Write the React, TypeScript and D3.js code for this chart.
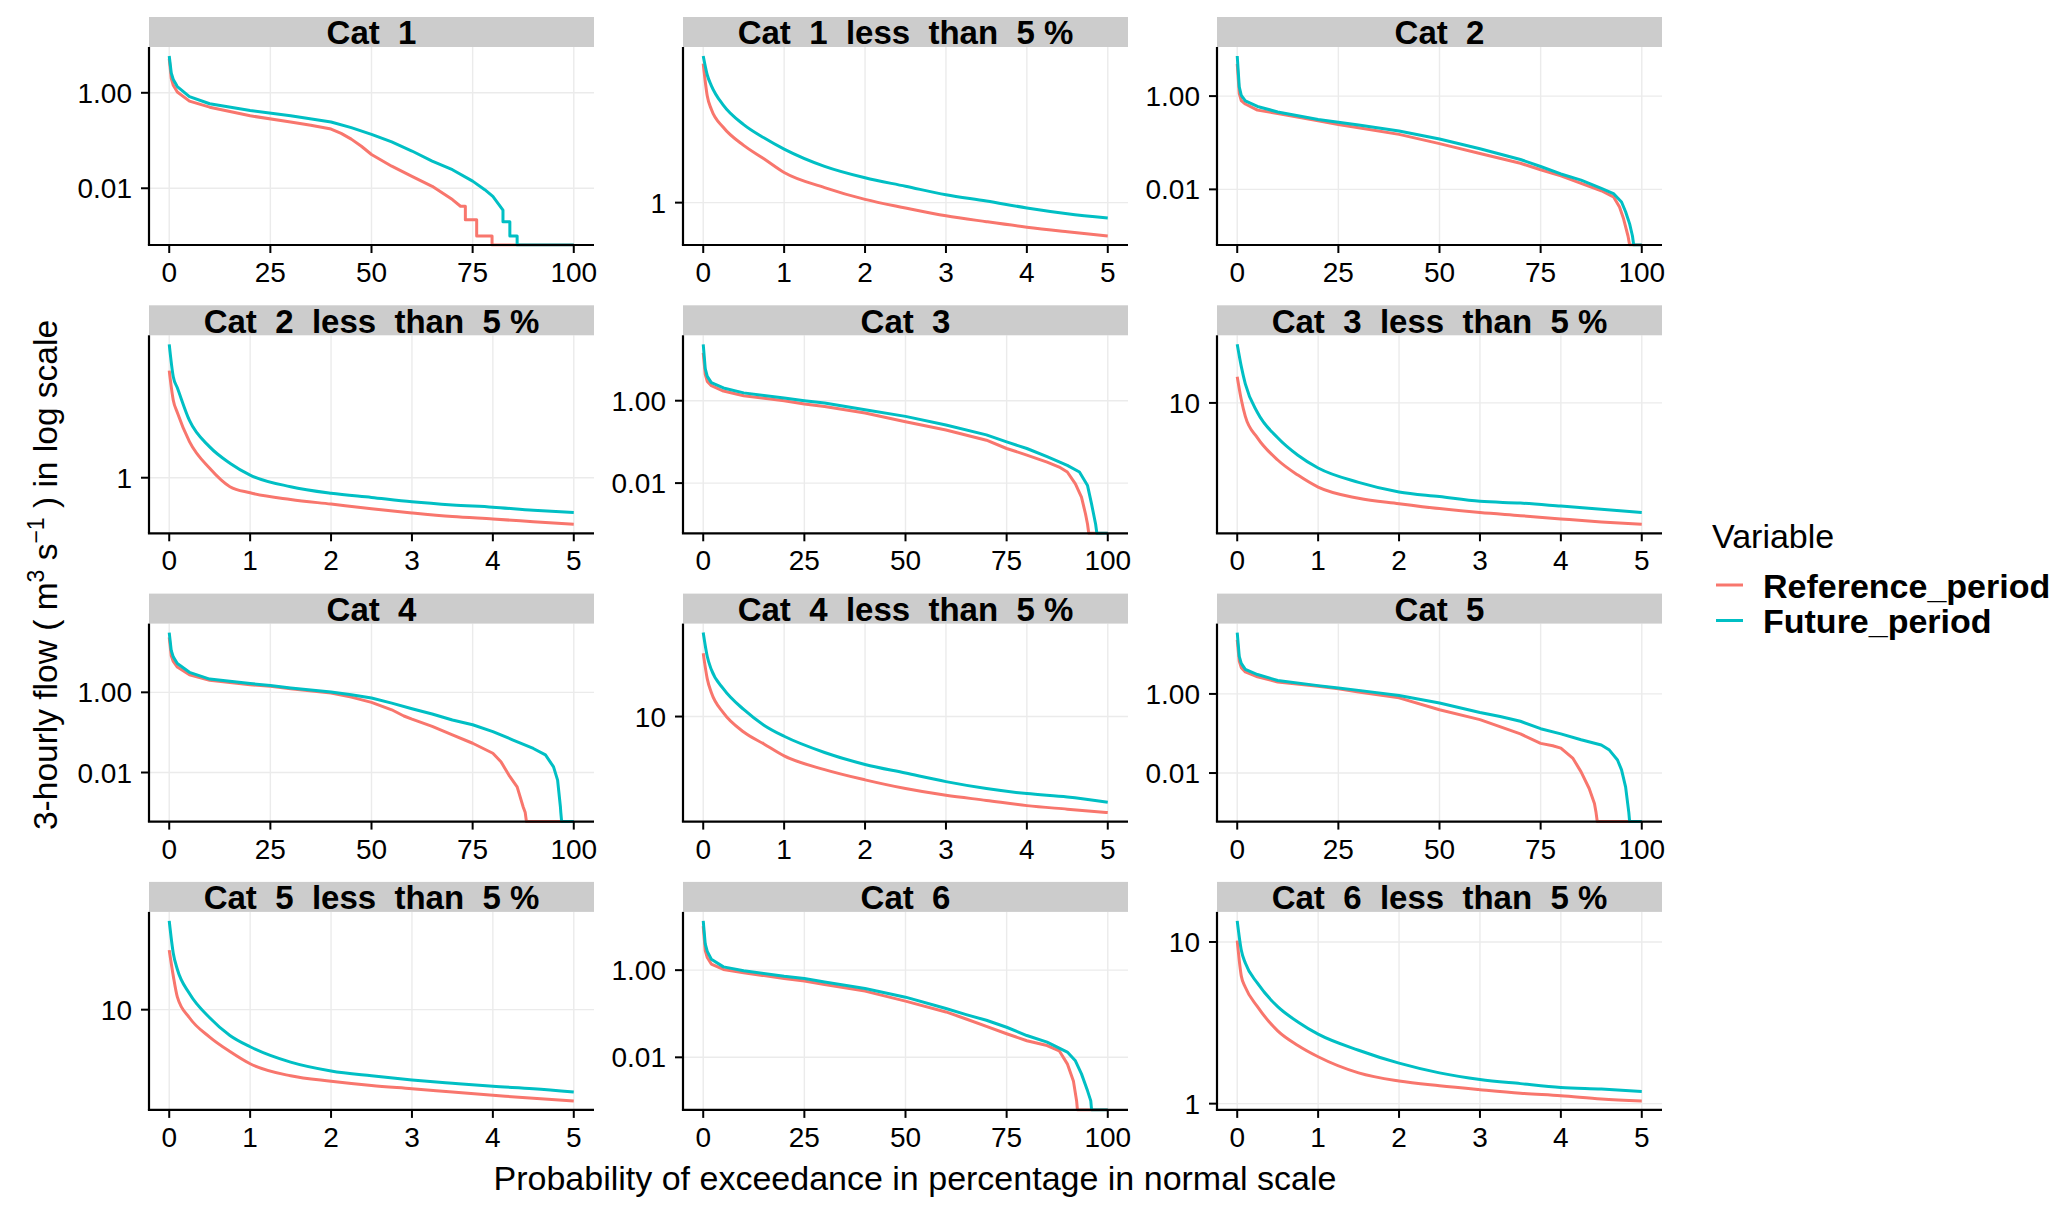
import React from "react";
import * as d3 from "d3";

type Pt = [number, number];

// percent-of-exceedance grid shared by the "less than 5%" panels
const pctLow = [0, 0.05, 0.1, 0.25, 0.5, 0.75, 1, 1.5, 2, 2.5, 3, 3.5, 4, 4.5, 5];

// full-range panels: [probability %, flow m3/s], 0 = zero flow (drawn at panel floor)
const cat1Ref: Pt[] = [[0, 5.2], [0.5, 2.0], [1, 1.44], [2, 1.04], [5, 0.67], [10, 0.5], [20, 0.33], [30, 0.245], [35, 0.209], [40, 0.174], [42.5, 0.141], [45, 0.107], [47.5, 0.0759], [50, 0.051], [55, 0.029], [60, 0.0178], [65, 0.011], [70, 0.0058], [72, 0.0042], [73.2, 0.0042], [73.2, 0.0022], [76, 0.0022], [76, 0.001], [79.8, 0.001], [79.8, 0], [100, 0]];
const cat1Fut: Pt[] = [[0, 5.9], [0.5, 2.6], [1, 1.9], [2, 1.35], [5, 0.83], [10, 0.589], [20, 0.427], [30, 0.331], [40, 0.245], [45, 0.186], [50, 0.135], [55, 0.0933], [60, 0.0603], [65, 0.0372], [70, 0.0245], [75, 0.0141], [78, 0.00933], [80, 0.00676], [82.5, 0.0035], [82.5, 0.002], [84.2, 0.002], [84.2, 0.001], [86, 0.001], [86, 0], [100, 0]];
const cat2Ref: Pt[] = [[0, 4.9], [0.5, 1.15], [1, 0.8], [2, 0.676], [5, 0.5], [10, 0.422], [20, 0.295], [25, 0.245], [30, 0.209], [40, 0.151], [50, 0.0955], [60, 0.0589], [70, 0.0363], [75, 0.0263], [80, 0.0195], [85, 0.0135], [90, 0.00933], [93, 0.00692], [94.5, 0.00417], [95.5, 0.00234], [96.6, 0.001], [97, 0], [100, 0]];
const cat2Fut: Pt[] = [[0, 7.24], [0.5, 1.58], [1, 1.04], [2, 0.79], [5, 0.6], [10, 0.457], [20, 0.316], [25, 0.275], [30, 0.24], [40, 0.178], [50, 0.12], [60, 0.0741], [70, 0.0437], [75, 0.0309], [80, 0.0214], [85, 0.0158], [90, 0.0105], [93, 0.00813], [95, 0.00537], [96, 0.00331], [97, 0.00182], [97.7, 0.001], [98, 0], [100, 0]];
const cat3Ref: Pt[] = [[0, 14.6], [0.5, 4.37], [1, 2.95], [2, 2.32], [5, 1.72], [10, 1.32], [20, 1.0], [25, 0.832], [30, 0.724], [40, 0.501], [50, 0.309], [60, 0.195], [70, 0.11], [75, 0.0692], [80, 0.0479], [85, 0.0324], [88, 0.0245], [90, 0.0186], [92, 0.00955], [93.5, 0.00457], [94.5, 0.00178], [95, 0.001], [95.3, 0], [100, 0]];
const cat3Fut: Pt[] = [[0, 23.4], [0.5, 6.03], [1, 3.89], [2, 2.75], [5, 2.04], [10, 1.55], [20, 1.16], [25, 1.0], [30, 0.877], [40, 0.603], [50, 0.417], [60, 0.257], [70, 0.148], [75, 0.1], [80, 0.0692], [85, 0.0437], [90, 0.0269], [93, 0.0186], [95, 0.0087], [96, 0.00309], [97, 0.001], [97.3, 0], [100, 0]];
const cat4Ref: Pt[] = [[0, 23.4], [0.5, 8.13], [1, 5.89], [2, 4.27], [5, 2.75], [10, 2.0], [20, 1.55], [25, 1.41], [30, 1.23], [40, 0.962], [45, 0.759], [50, 0.562], [55, 0.367], [58, 0.257], [60, 0.214], [65, 0.141], [70, 0.0871], [75, 0.0537], [80, 0.0302], [82, 0.0186], [84, 0.00851], [86, 0.00437], [87.5, 0.00138], [88, 0.001], [88.3, 0], [100, 0]];
const cat4Fut: Pt[] = [[0, 30.9], [0.5, 11.0], [1, 7.67], [2, 5.25], [5, 3.16], [10, 2.14], [20, 1.66], [25, 1.48], [30, 1.29], [40, 1.02], [45, 0.871], [50, 0.724], [55, 0.537], [60, 0.389], [65, 0.288], [70, 0.204], [75, 0.155], [80, 0.105], [85, 0.0646], [90, 0.0398], [93, 0.0275], [95, 0.0138], [96, 0.00646], [96.7, 0.00138], [96.8, 0.001], [97, 0], [100, 0]];
const cat5Ref: Pt[] = [[0, 23.4], [0.5, 6.76], [1, 4.62], [2, 3.6], [5, 2.72], [10, 2.0], [20, 1.57], [25, 1.35], [30, 1.12], [40, 0.794], [50, 0.398], [60, 0.224], [70, 0.0977], [75, 0.0562], [78, 0.049], [80, 0.0427], [83, 0.0234], [85, 0.0107], [87, 0.00407], [88.3, 0.0017], [88.7, 0.001], [89, 0], [100, 0]];
const cat5Fut: Pt[] = [[0, 35.5], [0.5, 8.91], [1, 5.89], [2, 4.17], [5, 3.09], [10, 2.19], [20, 1.62], [25, 1.41], [30, 1.23], [40, 0.912], [50, 0.589], [60, 0.339], [65, 0.269], [70, 0.204], [75, 0.132], [80, 0.0977], [85, 0.0692], [90, 0.0513], [92, 0.038], [94, 0.0214], [95, 0.012], [96, 0.00447], [96.8, 0.001], [97, 0], [100, 0]];
const cat6Ref: Pt[] = [[0, 10.2], [0.5, 2.82], [1, 1.95], [2, 1.38], [5, 1.04], [10, 0.871], [20, 0.646], [25, 0.562], [30, 0.468], [40, 0.331], [50, 0.195], [60, 0.11], [65, 0.0759], [70, 0.0513], [75, 0.0347], [80, 0.024], [85, 0.0186], [88, 0.0141], [90, 0.00708], [91.5, 0.00288], [92.3, 0.001], [92.5, 0], [100, 0]];
const cat6Fut: Pt[] = [[0, 13.5], [0.5, 3.98], [1, 2.69], [2, 1.78], [5, 1.19], [10, 0.966], [20, 0.724], [25, 0.646], [30, 0.537], [40, 0.38], [50, 0.24], [60, 0.132], [65, 0.0955], [70, 0.0708], [75, 0.049], [80, 0.0316], [85, 0.0224], [90, 0.0132], [92, 0.00832], [93.5, 0.00417], [95, 0.0017], [95.8, 0.001], [96, 0], [100, 0]];

// "less than 5%" panels, values at pctLow
const cat1LowRef = [5.37, 3.63, 3.09, 2.48, 2.0, 1.7, 1.44, 1.2, 1.04, 0.938, 0.853, 0.794, 0.743, 0.703, 0.668];
const cat1LowFut = [5.89, 4.68, 4.12, 3.24, 2.57, 2.19, 1.91, 1.55, 1.35, 1.22, 1.1, 1.02, 0.938, 0.875, 0.83];
const cat2LowRef = [4.9, 3.16, 2.63, 1.71, 1.15, 0.875, 0.8, 0.724, 0.676, 0.631, 0.593, 0.562, 0.542, 0.521, 0.501];
const cat2LowFut = [7.24, 4.47, 3.8, 2.34, 1.58, 1.24, 1.04, 0.875, 0.794, 0.746, 0.7, 0.668, 0.646, 0.617, 0.596];
const cat3LowRef = [14.6, 10.5, 8.22, 6.03, 4.37, 3.51, 2.95, 2.51, 2.32, 2.16, 2.04, 1.95, 1.86, 1.78, 1.72];
const cat3LowFut = [23.4, 17.0, 13.2, 8.71, 6.03, 4.68, 3.89, 3.16, 2.75, 2.57, 2.4, 2.34, 2.24, 2.14, 2.04];
const cat4LowRef = [23.4, 16.6, 13.8, 10.5, 8.13, 6.92, 5.89, 4.9, 4.27, 3.8, 3.47, 3.24, 3.02, 2.88, 2.75];
const cat4LowFut = [30.9, 22.4, 18.8, 14.5, 11.0, 8.91, 7.67, 6.17, 5.25, 4.68, 4.17, 3.8, 3.55, 3.39, 3.16];
const cat5LowRef = [23.4, 16.2, 12.0, 8.91, 6.76, 5.5, 4.62, 3.89, 3.6, 3.39, 3.24, 3.09, 2.95, 2.82, 2.72];
const cat5LowFut = [35.5, 22.4, 17.8, 12.6, 8.91, 6.92, 5.89, 4.73, 4.17, 3.89, 3.67, 3.5, 3.35, 3.24, 3.09];
const cat6LowRef = [10.2, 6.17, 5.25, 3.98, 2.82, 2.29, 1.95, 1.55, 1.38, 1.29, 1.22, 1.16, 1.12, 1.07, 1.04];
const cat6LowFut = [13.5, 8.91, 7.41, 5.56, 3.98, 3.2, 2.69, 2.14, 1.78, 1.55, 1.41, 1.33, 1.26, 1.23, 1.19];

const panelTitles = [
  "Cat  1", "Cat  1  less  than  5 %",
  "Cat  2", "Cat  2  less  than  5 %",
  "Cat  3", "Cat  3  less  than  5 %",
  "Cat  4", "Cat  4  less  than  5 %",
  "Cat  5", "Cat  5  less  than  5 %",
  "Cat  6", "Cat  6  less  than  5 %",
];

const xTicksFull = [0, 25, 50, 75, 100];
const xTicksLow = [0, 1, 2, 3, 4, 5];
const yTicksFull = [0.01, 1];
const yLabelsFull = ["0.01", "1.00"];
const yTicksOne = [1];
const yLabelsOne = ["1"];
const yTicksTen = [10];
const yLabelsTen = ["10"];
const yTicksCat6Low = [1, 10];
const yLabelsCat6Low = ["1", "10"];

const seriesNames = ["Reference_period", "Future_period"];
const seriesColors = ["#F8766D", "#00BFC4"];

const zipLow = (v: number[]): Pt[] => pctLow.map((p, i) => [p, v[i]]);

interface PanelDef {
  title: string;
  series: Pt[][];
  xTicks: number[];
  yTicks: number[];
  yLabels: string[];
  low: boolean;
}

const panels: PanelDef[] = [
  { title: panelTitles[0], series: [cat1Ref, cat1Fut], xTicks: xTicksFull, yTicks: yTicksFull, yLabels: yLabelsFull, low: false },
  { title: panelTitles[1], series: [zipLow(cat1LowRef), zipLow(cat1LowFut)], xTicks: xTicksLow, yTicks: yTicksOne, yLabels: yLabelsOne, low: true },
  { title: panelTitles[2], series: [cat2Ref, cat2Fut], xTicks: xTicksFull, yTicks: yTicksFull, yLabels: yLabelsFull, low: false },
  { title: panelTitles[3], series: [zipLow(cat2LowRef), zipLow(cat2LowFut)], xTicks: xTicksLow, yTicks: yTicksOne, yLabels: yLabelsOne, low: true },
  { title: panelTitles[4], series: [cat3Ref, cat3Fut], xTicks: xTicksFull, yTicks: yTicksFull, yLabels: yLabelsFull, low: false },
  { title: panelTitles[5], series: [zipLow(cat3LowRef), zipLow(cat3LowFut)], xTicks: xTicksLow, yTicks: yTicksTen, yLabels: yLabelsTen, low: true },
  { title: panelTitles[6], series: [cat4Ref, cat4Fut], xTicks: xTicksFull, yTicks: yTicksFull, yLabels: yLabelsFull, low: false },
  { title: panelTitles[7], series: [zipLow(cat4LowRef), zipLow(cat4LowFut)], xTicks: xTicksLow, yTicks: yTicksTen, yLabels: yLabelsTen, low: true },
  { title: panelTitles[8], series: [cat5Ref, cat5Fut], xTicks: xTicksFull, yTicks: yTicksFull, yLabels: yLabelsFull, low: false },
  { title: panelTitles[9], series: [zipLow(cat5LowRef), zipLow(cat5LowFut)], xTicks: xTicksLow, yTicks: yTicksTen, yLabels: yLabelsTen, low: true },
  { title: panelTitles[10], series: [cat6Ref, cat6Fut], xTicks: xTicksFull, yTicks: yTicksFull, yLabels: yLabelsFull, low: false },
  { title: panelTitles[11], series: [zipLow(cat6LowRef), zipLow(cat6LowFut)], xTicks: xTicksLow, yTicks: yTicksCat6Low, yLabels: yLabelsCat6Low, low: true },
];

const WIDTH = 2067;
const HEIGHT = 1219;
const colLeft = [149, 683, 1217];
const panelW = 445;
const rowTop0 = 17;
const rowPitch = 288.3;
const stripH = 30;
const plotH = 198;
const FONT = "'Liberation Sans', Arial, Helvetica, sans-serif";

const Panel: React.FC<{ def: PanelDef; index: number }> = ({ def, index }) => {
  const col = index % 3;
  const row = Math.floor(index / 3);
  const left = colLeft[col];
  const right = left + panelW;
  const stripTop = rowTop0 + row * rowPitch;
  const top = stripTop + stripH;
  const bottom = top + plotH;

  const all = def.series.flat();
  const [x0, x1] = d3.extent(all, (d) => d[0]) as [number, number];
  const xPad = (x1 - x0) * 0.05;
  const x = d3.scaleLinear().domain([x0 - xPad, x1 + xPad]).range([left, right]);

  // log10 scale with ggplot-style 5% expansion around the positive values
  const logs = all.filter((d) => d[1] > 0).map((d) => Math.log10(d[1]));
  const lMin = d3.min(logs) as number;
  const lMax = d3.max(logs) as number;
  const lPad = (lMax - lMin) * 0.05;
  const y = d3
    .scaleLog()
    .domain([Math.pow(10, lMin - lPad), Math.pow(10, lMax + lPad)])
    .range([bottom, top]);

  const line = d3
    .line<Pt>()
    .x((d) => x(d[0]))
    .y((d) => (d[1] > 0 ? y(d[1]) : bottom))
    .curve(def.low ? d3.curveMonotoneX : d3.curveLinear);

  const clipId = `clip-${index}`;

  return (
    <g>
      <defs>
        <clipPath id={clipId}>
          <rect x={left} y={top} width={panelW} height={plotH + 1.5} />
        </clipPath>
      </defs>
      <rect x={left} y={top} width={panelW} height={plotH} fill="#ffffff" />
      {def.xTicks.map((t) => (
        <line key={`gx${t}`} x1={x(t)} x2={x(t)} y1={top} y2={bottom} stroke="#ebebeb" strokeWidth={1.4} />
      ))}
      {def.yTicks.map((t) => (
        <line key={`gy${t}`} x1={left} x2={right} y1={y(t)} y2={y(t)} stroke="#ebebeb" strokeWidth={1.4} />
      ))}
      <g clipPath={`url(#${clipId})`}>
        {def.series.map((s, i) => (
          <path
            key={i}
            d={line(s) || ""}
            fill="none"
            stroke={seriesColors[i]}
            strokeWidth={3}
            strokeLinejoin="round"
          />
        ))}
      </g>
      {/* strip */}
      <rect x={left} y={stripTop} width={panelW} height={stripH} fill="#cccccc" />
      <text
        x={(left + right) / 2}
        y={stripTop + 27.3}
        textAnchor="middle"
        fontSize={33}
        fontWeight="bold"
        fill="#000"
        style={{ whiteSpace: "pre" }}
      >
        {def.title}
      </text>
      {/* axes */}
      <line x1={left} x2={left} y1={top} y2={bottom} stroke="#000" strokeWidth={2.2} />
      <line x1={left - 1.1} x2={right} y1={bottom} y2={bottom} stroke="#000" strokeWidth={2.2} />
      {def.xTicks.map((t) => (
        <g key={`tx${t}`}>
          <line x1={x(t)} x2={x(t)} y1={bottom} y2={bottom + 8} stroke="#000" strokeWidth={2} />
          <text x={x(t)} y={bottom + 37} textAnchor="middle" fontSize={28} fill="#000">
            {t}
          </text>
        </g>
      ))}
      {def.yTicks.map((t, i) => (
        <g key={`ty${t}`}>
          <line x1={left - 8} x2={left} y1={y(t)} y2={y(t)} stroke="#000" strokeWidth={2} />
          <text x={left - 17} y={y(t) + 10} textAnchor="end" fontSize={28} fill="#000">
            {def.yLabels[i]}
          </text>
        </g>
      ))}
    </g>
  );
};

export default function App() {
  return (
    <div style={{ position: "absolute", left: 0, top: 0 }}>
      <svg width={WIDTH} height={HEIGHT} fontFamily={FONT} style={{ display: "block" }}>
        <rect width={WIDTH} height={HEIGHT} fill="#ffffff" />
        {panels.map((p, i) => (
          <Panel key={i} def={p} index={i} />
        ))}
        {/* axis titles */}
        <text x={915} y={1190} textAnchor="middle" fontSize={34} fill="#000">
          Probability of exceedance in percentage in normal scale
        </text>
        <text transform="translate(57,575) rotate(-90)" textAnchor="middle" fontSize={33.5} fill="#000">
          3-hourly flow ( m
          <tspan baselineShift="super" fontSize={23}>3</tspan>
          <tspan> s</tspan>
          <tspan baselineShift="super" fontSize={23}>−1</tspan>
          <tspan> ) in log scale</tspan>
        </text>
        {/* legend */}
        <text x={1712} y={548} fontSize={34} fill="#000">
          Variable
        </text>
        {seriesNames.map((n, i) => (
          <g key={n}>
            <line x1={1716} x2={1743} y1={585 + i * 35.5} y2={585 + i * 35.5} stroke={seriesColors[i]} strokeWidth={3} />
            <text x={1763} y={598 + i * 34.5} fontSize={34} fontWeight="bold" fill="#000">
              {n}
            </text>
          </g>
        ))}
      </svg>
    </div>
  );
}
